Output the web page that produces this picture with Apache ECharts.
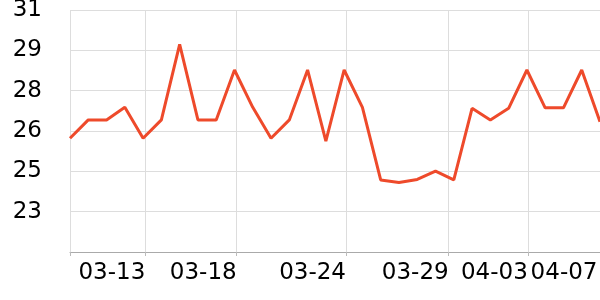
<!DOCTYPE html>
<html>
<head>
<meta charset="utf-8">
<script src="https://cdn.jsdelivr.net/npm/echarts@6/dist/echarts.min.js"></script>
<style>html,body{margin:0;padding:0;background:#fff;}#c{width:600px;height:300px;}</style>
</head>
<body>
<div id="c"></div>
<script>
const dates = ['03-09','03-10','03-11','03-12','03-13','03-14','03-15','03-16','03-17','03-18',
  '03-19','03-20','03-21','03-22','03-23','03-24','03-25','03-26','03-27','03-28',
  '03-29','03-30','03-31','04-01','04-02','04-03','04-04','04-05','04-06','04-07'];
const values = [25.91, 26.64, 26.64, 27.14, 25.91, 26.64, 29.64, 26.64, 26.64, 28.62,
  27.14, 25.91, 26.64, 28.62, 25.80, 28.62, 27.14, 24.26, 24.16, 24.28,
  24.61, 24.26, 27.10, 26.64, 27.10, 28.62, 27.12, 27.12, 28.62, 26.57];
// x-axis tick marks / labels (positions in day-index units along the axis)
const tickPositions = [0, 4.12, 9.12, 15.1, 20.72, 25.05];
const labelPositions = [4.12, 9.12, 15.1, 20.72, 25.05, 28.86];
const tickLabels = ['03-13', '03-18', '03-24', '03-29', '04-03', '04-07'];
const yMin = 21.4, yMax = 31, yStep = 1.6;

const chart = echarts.init(document.getElementById('c'), null, {renderer: 'canvas'});
const font = 'DejaVu Sans';
chart.setOption({
  animation: false,
  grid: {left: 70, right: 0, top: 10, bottom: 48, containLabel: false, outerBoundsMode: 'none'},
  xAxis: {
    type: 'value',
    min: 0,
    max: dates.length - 1,
    axisLine: {show: true, lineStyle: {color: '#aaaaaa', width: 1}},
    axisTick: {show: true, length: 4, lineStyle: {color: '#bbbbbb'}, customValues: tickPositions},
    splitLine: {show: true, lineStyle: {color: '#dddddd', width: 1}},
    axisLabel: {
      customValues: labelPositions,
      align: 'right',
      margin: 10,
      color: '#000',
      fontFamily: font,
      fontSize: 23,
      formatter: function (v) {
        let best = 0;
        for (let i = 0; i < labelPositions.length; i++) {
          if (Math.abs(labelPositions[i] - v) < Math.abs(labelPositions[best] - v)) best = i;
        }
        return tickLabels[best];
      }
    }
  },
  yAxis: {
    type: 'value',
    min: yMin,
    max: yMax,
    interval: yStep,
    axisLine: {show: false},
    axisTick: {show: false},
    splitLine: {show: true, lineStyle: {color: '#dddddd', width: 1}},
    axisLabel: {
      showMinLabel: false,
      margin: 28,
      padding: [6, 0, 0, 0],
      color: '#000',
      fontFamily: font,
      fontSize: 23,
      formatter: function (v) { return Math.round(v).toString(); }
    }
  },
  series: [{
    type: 'line',
    data: values.map((v, i) => [i, v]),
    showSymbol: false,
    symbol: 'none',
    lineStyle: {color: '#ee4a2b', width: 3},
    clip: true
  }]
});
</script>
</body>
</html>
